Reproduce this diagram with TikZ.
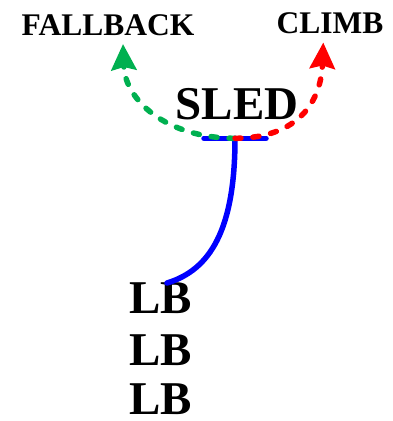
\documentclass[tikz,border=0pt]{standalone}
\usepackage{fontspec}
\setmainfont{Liberation Serif}
\usetikzlibrary{arrows.meta}
\definecolor{fbgreen}{RGB}{0,176,80}
\begin{document}
\begin{tikzpicture}[x=1pt,y=-1pt,
  bigtxt/.style={font=\fontsize{47}{47}\selectfont\bfseries, inner sep=0pt, anchor=base},
  smalltxt/.style={font=\fontsize{31.5}{31.5}\selectfont\bfseries, inner sep=0pt, anchor=base},
  branch/.style={line width=5.5pt, line cap=round, dash pattern=on 6pt off 12pt,
    -{Stealth[length=26pt, width=25pt, inset=3pt, line cap=butt, sep=0pt, fill=#1]}, draw=#1}]
  \useasboundingbox (0,0) rectangle (393,421);
  % labels
  \node[smalltxt] (fallback) at (108,35) {FALLBACK};
  \node[smalltxt] (climb) at (330,33) {CLIMB};
  \node[bigtxt] (sled) at (237,119.3) {SLED};
  \node[bigtxt, anchor=base west] (lb1) at (129,313) {LB};
  \node[bigtxt, anchor=base west] (lb2) at (129,365.5) {LB};
  \node[bigtxt, anchor=base west] (lb3) at (129,414.5) {LB};
  % sled bar and the stem that hangs from it
  \coordinate (barL) at (204,138.3);
  \coordinate (barR) at (266,138.3);
  \coordinate (barM) at (235,138.3);
  \coordinate (lbtop) at (167,283);
  \coordinate (fbtip) at (123,44);
  \coordinate (cltip) at (323.3,42.5);
  \draw[blue, line width=5.5pt, line cap=round] (barL) -- (barR);
  \draw[blue, line width=5.5pt, line cap=round] (barM) .. controls (235,230) and (210,270) .. (lbtop);
  % the two possible moves
  \draw[branch=fbgreen] (barM) .. controls (166,138) and (125,100) .. (fbtip);
  \draw[branch=red] (barM) .. controls (300,138) and (321,100) .. (cltip);
\end{tikzpicture}
\end{document}
